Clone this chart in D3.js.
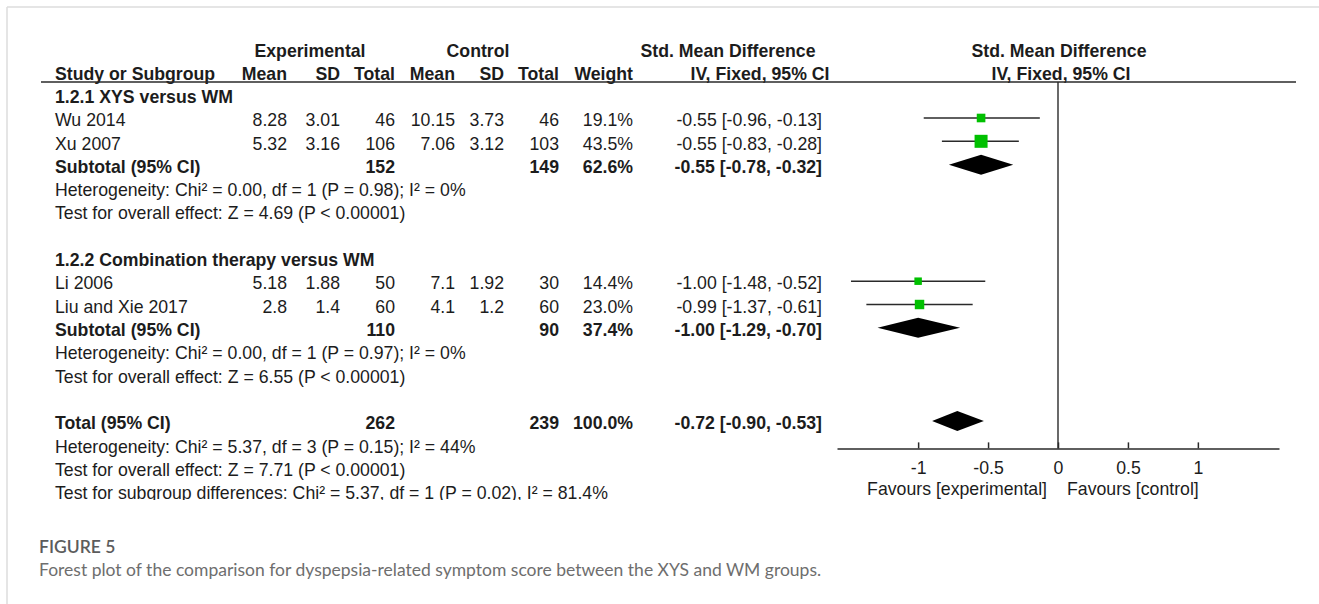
<!DOCTYPE html>
<html>
<head>
<meta charset="utf-8">
<script src="https://cdn.jsdelivr.net/npm/d3@7"></script>
<style>
  body { margin: 0; background: #fff; }
  svg { display: block; }
  .tbl { font-family: "Liberation Sans", Arial, sans-serif; font-size: 17.7px; fill: #1c1c1c; }
  .bold { font-weight: bold; }
</style>
</head>
<body>
<div id="chart"></div>
<script>
// study level data
var studies   = ["Wu 2014", "Xu 2007", "Li 2006", "Liu and Xie 2017"];
var studyGrp  = [0, 0, 1, 1];
var expMean   = [8.28, 5.32, 5.18, 2.8];
var expSD     = [3.01, 3.16, 1.88, 1.4];
var expN      = [46, 106, 50, 60];
var ctrlMean  = [10.15, 7.06, 7.1, 4.1];
var ctrlSD    = [3.73, 3.12, 1.92, 1.2];
var ctrlN     = [46, 103, 30, 60];
var weights   = [19.1, 43.5, 14.4, 23.0];
var smd       = [-0.55, -0.55, -1.00, -0.99];
var smdLo     = [-0.96, -0.83, -1.48, -1.37];
var smdHi     = [-0.13, -0.28, -0.52, -0.61];

// subgroups
var groups     = ["1.2.1 XYS versus WM", "1.2.2 Combination therapy versus WM"];
var subExpN    = [152, 110];
var subCtrlN   = [149, 90];
var subWeight  = [62.6, 37.4];
var subSmd     = [-0.55, -1.00];
var subLo      = [-0.78, -1.29];
var subHi      = [-0.32, -0.70];
var subNotes   = [
  ["Heterogeneity: Chi² = 0.00, df = 1 (P = 0.98); I² = 0%", "Test for overall effect: Z = 4.69 (P < 0.00001)"],
  ["Heterogeneity: Chi² = 0.00, df = 1 (P = 0.97); I² = 0%", "Test for overall effect: Z = 6.55 (P < 0.00001)"]
];

// overall
var totExpN = 262, totCtrlN = 239, totWeight = 100.0;
var totSmd = -0.72, totLo = -0.90, totHi = -0.53;
var totNotes = [
  "Heterogeneity: Chi² = 5.37, df = 3 (P = 0.15); I² = 44%",
  "Test for overall effect: Z = 7.71 (P < 0.00001)",
  "Test for subgroup differences: Chi² = 5.37, df = 1 (P = 0.02), I² = 81.4%"
];

var tickVals = [-1, -0.5, 0, 0.5, 1];
var favours = ["Favours [experimental]", "Favours [control]"];

var W = 1319, H = 604;

var svg = d3.select("#chart").append("svg")
  .attr("width", W)
  .attr("height", H);

// page frame
svg.append("line").attr("x1", 7).attr("x2", W).attr("y1", 7).attr("y2", 7)
  .attr("stroke", "#dcdcdc").attr("stroke-width", 1.5);
svg.append("line").attr("x1", 7).attr("x2", 7).attr("y1", 7).attr("y2", H)
  .attr("stroke", "#dcdcdc").attr("stroke-width", 1.5);

// row positions (marks); text sits a touch lower
var rowY = d3.scaleLinear().domain([1, 17]).range([118, 491]);
var textShift = 2;

svg.append("clipPath").attr("id", "figclip")
  .append("rect").attr("x", 0).attr("y", 0).attr("width", W).attr("height", rowY(17) + textShift + 7);

var g = svg.append("g").attr("clip-path", "url(#figclip)");

// build the table rows from the arrays
var rows = [];
var r = 0;
groups.forEach(function(name, gi) {
  rows.push({ type: "group", row: r++, label: name });
  studies.forEach(function(s, i) {
    if (studyGrp[i] !== gi) return;
    rows.push({ type: "study", row: r++, label: s,
      em: expMean[i], es: expSD[i], en: expN[i],
      cm: ctrlMean[i], cs: ctrlSD[i], cn: ctrlN[i],
      w: weights[i], est: smd[i], lo: smdLo[i], hi: smdHi[i] });
  });
  rows.push({ type: "sub", row: r++, label: "Subtotal (95% CI)",
    en: subExpN[gi], cn: subCtrlN[gi], w: subWeight[gi],
    est: subSmd[gi], lo: subLo[gi], hi: subHi[gi] });
  subNotes[gi].forEach(function(t) { rows.push({ type: "note", row: r++, label: t }); });
  r++; // blank line
});
rows.push({ type: "sub", row: r++, label: "Total (95% CI)",
  en: totExpN, cn: totCtrlN, w: totWeight, est: totSmd, lo: totLo, hi: totHi });
totNotes.forEach(function(t) { rows.push({ type: "note", row: r++, label: t }); });

// columns (right edges for numbers)
var col = { label: 55, em: 287, es: 340, en: 395, cm: 455, cs: 504, cn: 559, w: 633, ci: 822 };

function fmtCI(d) {
  return d.est.toFixed(2) + " [" + d.lo.toFixed(2) + ", " + d.hi.toFixed(2) + "]";
}

// headers
var hdr1 = 51, hdr2 = 74;
var head = g.append("g").attr("class", "tbl bold");
[["Experimental", 310, hdr1], ["Control", 478, hdr1], ["Std. Mean Difference", 728, hdr1],
 ["Std. Mean Difference", 1059, hdr1], ["IV, Fixed, 95% CI", 1061, hdr2], ["IV, Fixed, 95% CI", 760, hdr2]]
  .forEach(function(h) {
    head.append("text").attr("x", h[1]).attr("y", h[2]).attr("dy", "0.35em")
      .attr("text-anchor", "middle").text(h[0]);
  });
head.append("text").attr("x", col.label).attr("y", hdr2).attr("dy", "0.35em").text("Study or Subgroup");
[["Mean", "em"], ["SD", "es"], ["Total", "en"], ["Mean", "cm"], ["SD", "cs"], ["Total", "cn"], ["Weight", "w"]]
  .forEach(function(h) {
    head.append("text").attr("x", col[h[1]]).attr("y", hdr2).attr("dy", "0.35em")
      .attr("text-anchor", "end").text(h[0]);
  });

// x scale for the plot
var x = d3.scaleLinear().domain([-1.58, 1.58]).range([837, 1279]);

// header rule and zero line
g.append("line").attr("x1", 41).attr("x2", 1296).attr("y1", 82).attr("y2", 82)
  .attr("stroke", "#2a2a2a").attr("stroke-width", 1.6);
var axisY = rowY(15) + 4;
g.append("line").attr("x1", x(0)).attr("x2", x(0)).attr("y1", 82).attr("y2", axisY)
  .attr("stroke", "#2a2a2a").attr("stroke-width", 1.4);

// table text
var tbl = g.append("g").attr("class", "tbl");
rows.forEach(function(d) {
  var y = rowY(d.row) + textShift;
  var bold = (d.type === "group" || d.type === "sub");
  var t = tbl.append("g").attr("class", bold ? "bold" : null);
  t.append("text").attr("x", col.label).attr("y", y).attr("dy", "0.35em").text(d.label);
  if (d.type === "study") {
    ["em", "es", "en", "cm", "cs", "cn"].forEach(function(k) {
      t.append("text").attr("x", col[k]).attr("y", y).attr("dy", "0.35em")
        .attr("text-anchor", "end").text(String(d[k]));
    });
  }
  if (d.type === "study" || d.type === "sub") {
    if (d.type === "sub") {
      t.append("text").attr("x", col.en).attr("y", y).attr("dy", "0.35em").attr("text-anchor", "end").text(d.en);
      t.append("text").attr("x", col.cn).attr("y", y).attr("dy", "0.35em").attr("text-anchor", "end").text(d.cn);
    }
    t.append("text").attr("x", col.w).attr("y", y).attr("dy", "0.35em")
      .attr("text-anchor", "end").text(d.w.toFixed(1) + "%");
    t.append("text").attr("x", col.ci).attr("y", y).attr("dy", "0.35em")
      .attr("text-anchor", "end").text(fmtCI(d));
  }
});

// study markers
var boxSize = d3.scaleSqrt().domain([0, 43.5]).range([0, 13]);
var studyRows = rows.filter(function(d) { return d.type === "study"; });
var marks = g.append("g");
marks.selectAll("line.ci").data(studyRows).enter().append("line")
  .attr("class", "ci")
  .attr("x1", function(d) { return x(d.lo); })
  .attr("x2", function(d) { return x(d.hi); })
  .attr("y1", function(d) { return rowY(d.row); })
  .attr("y2", function(d) { return rowY(d.row); })
  .attr("stroke", "#2a2a2a").attr("stroke-width", 1.5);
marks.selectAll("rect").data(studyRows).enter().append("rect")
  .attr("x", function(d) { return x(d.est) - boxSize(d.w) / 2; })
  .attr("y", function(d) { return rowY(d.row) - boxSize(d.w) / 2; })
  .attr("width", function(d) { return boxSize(d.w); })
  .attr("height", function(d) { return boxSize(d.w); })
  .attr("fill", "#00c000");

// diamonds
var subRows = rows.filter(function(d) { return d.type === "sub"; });
marks.selectAll("path.diamond").data(subRows).enter().append("path")
  .attr("class", "diamond")
  .attr("d", function(d) {
    var y = rowY(d.row), h = 10;
    return "M" + x(d.lo) + "," + y + "L" + x(d.est) + "," + (y - h) +
      "L" + x(d.hi) + "," + y + "L" + x(d.est) + "," + (y + h) + "Z";
  })
  .attr("fill", "#000");

// axis
var ax = g.append("g")
  .attr("transform", "translate(0," + axisY + ")")
  .call(d3.axisBottom(x).tickValues(tickVals).tickFormat(function(d) { return String(d); })
    .tickSizeInner(-6).tickSizeOuter(0).tickPadding(13));
ax.select(".domain").attr("stroke", "#2a2a2a").attr("stroke-width", 1.5);
ax.selectAll(".tick line").attr("stroke", "#2a2a2a").attr("stroke-width", 1.5);
ax.selectAll(".tick text")
  .attr("font-family", "Liberation Sans, Arial, sans-serif")
  .attr("font-size", 17.7).attr("fill", "#1c1c1c");

var fav = g.append("g").attr("class", "tbl");
fav.append("text").attr("x", x(0) - 11).attr("y", axisY + 40).attr("dy", "0.35em")
  .attr("text-anchor", "end").text(favours[0]);
fav.append("text").attr("x", x(0) + 9).attr("y", axisY + 40).attr("dy", "0.35em")
  .attr("text-anchor", "start").text(favours[1]);

// caption
svg.append("text").attr("x", 39).attr("y", 547).attr("dy", "0.35em")
  .attr("font-family", "Lato, 'Open Sans', sans-serif").attr("font-size", 17.5)
  .attr("font-weight", 600).attr("fill", "#5c5c5c").text("FIGURE 5");
svg.append("text").attr("x", 39).attr("y", 570).attr("dy", "0.35em")
  .attr("font-family", "Lato, 'Open Sans', sans-serif").attr("font-size", 17.5)
  .attr("fill", "#6e6e6e")
  .text("Forest plot of the comparison for dyspepsia-related symptom score between the XYS and WM groups.");
</script>
</body>
</html>
